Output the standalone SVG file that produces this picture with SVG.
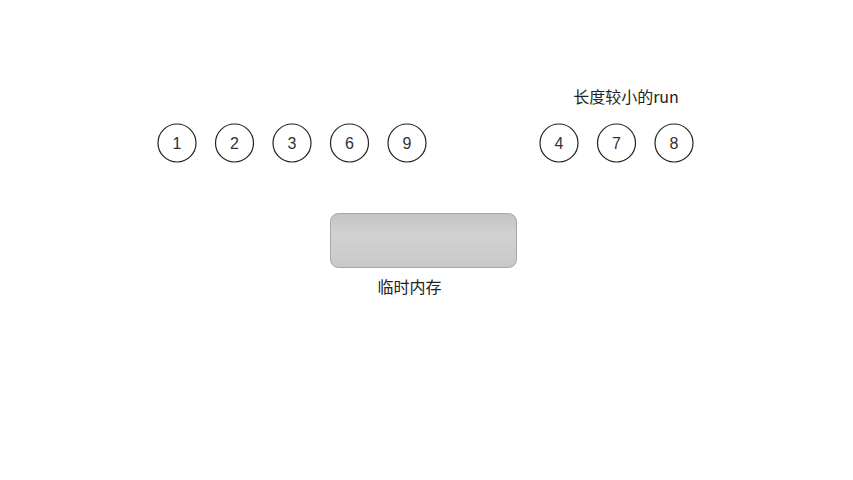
<svg xmlns="http://www.w3.org/2000/svg" width="853" height="480" viewBox="0 0 853 480">
<style>
.n circle{fill:#fff;stroke:#222;stroke-width:1.2}
.n text{font-family:"Liberation Sans","Noto Sans CJK SC",sans-serif;font-size:16px;fill:#333;text-anchor:middle}
.lbl{font-family:"Noto Sans CJK SC","Liberation Sans",sans-serif;font-size:16px;fill:#222;text-anchor:middle}
</style>
<defs>
<linearGradient id="g" x1="0" y1="0" x2="0" y2="1">
<stop offset="0" stop-color="#c4c4c4"/>
<stop offset="0.4" stop-color="#d2d2d2"/>
<stop offset="1" stop-color="#c8c8c8"/>
</linearGradient>
</defs>
<rect width="853" height="480" fill="#fff"/>
<g id="n1" class="n"><circle cx="177" cy="143" r="19"/><text x="177" y="149">1</text></g>
<g id="n2" class="n"><circle cx="234.5" cy="143" r="19"/><text x="234.5" y="149">2</text></g>
<g id="n3" class="n"><circle cx="292" cy="143" r="19"/><text x="292" y="149">3</text></g>
<g id="n6" class="n"><circle cx="349.5" cy="143" r="19"/><text x="349.5" y="149">6</text></g>
<g id="n9" class="n"><circle cx="407" cy="143" r="19"/><text x="407" y="149">9</text></g>
<g id="n4" class="n"><circle cx="559" cy="143" r="19"/><text x="559" y="149">4</text></g>
<g id="n7" class="n"><circle cx="616.5" cy="143" r="19"/><text x="616.5" y="149">7</text></g>
<g id="n8" class="n"><circle cx="674" cy="143" r="19"/><text x="674" y="149">8</text></g>
<g id="mem"><rect x="330.5" y="213.5" width="186" height="54" rx="8" fill="url(#g)" stroke="#a8a8a8"/>
<text class="lbl" x="409.5" y="293">临时内存</text></g>
<g id="runlabel"><text class="lbl" x="626" y="103">长度较小的run</text></g>
<g id="connectors"></g>
</svg>
